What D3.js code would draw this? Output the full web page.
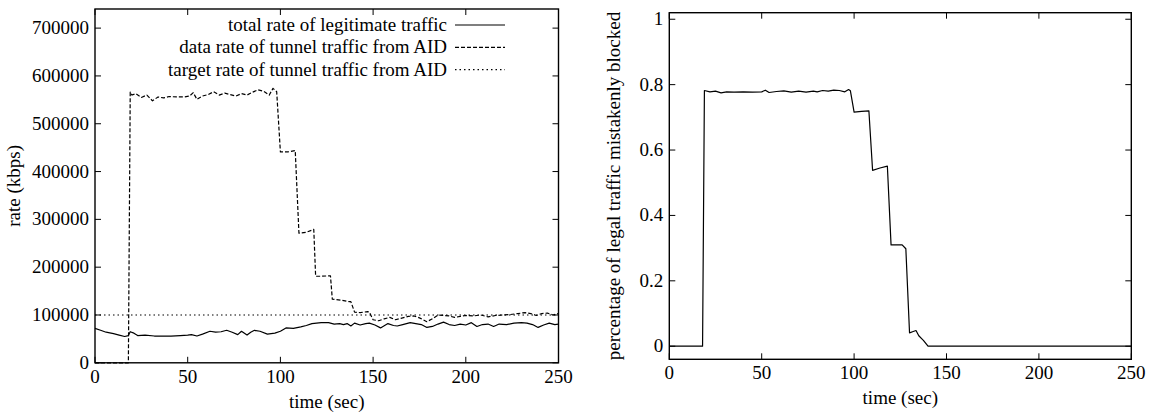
<!DOCTYPE html>
<html>
<head>
<meta charset="utf-8">
<script src="https://cdn.jsdelivr.net/npm/d3@7"></script>
<style>
  body { margin: 0; background: #fff; }
  svg text { font-family: "Liberation Serif", "Times New Roman", serif; font-size: 19px; fill: #000; }
  .frame { fill: none; stroke: #000; stroke-width: 1.4; }
  .tick-line { stroke: #000; stroke-width: 1; }
  .series { fill: none; stroke: #000; stroke-width: 1.2; stroke-linejoin: round; }
</style>
</head>
<body>
<div></div>
<script>
// ---- data ----
var timeTicks = [0, 50, 100, 150, 200, 250];
var rateTicks = [0, 100000, 200000, 300000, 400000, 500000, 600000, 700000];
var pctTicks = [0, 0.2, 0.4, 0.6, 0.8, 1];

var legendLabels = [
  "total rate of legitimate traffic",
  "data rate of tunnel traffic from AID",
  "target rate of tunnel traffic from AID"
];

// total rate of legitimate traffic
var totalTime = [0, 3, 6, 10, 13, 16, 18, 19, 21, 23, 27, 32, 37, 41, 46, 50, 52, 55, 58, 62, 65, 68, 71, 74, 77, 79, 82, 84, 86, 89, 93, 97, 100, 103, 107, 111, 114, 117, 122, 126, 129, 132, 134, 136, 138, 140, 143, 146, 148, 151, 154, 158, 161, 163, 166, 170, 173, 176, 179, 182, 185, 188, 191, 194, 197, 200, 203, 206, 209, 212, 215, 218, 222, 226, 230, 233, 236, 239, 242, 245, 248, 250];
var totalRate = [72000, 68000, 64000, 61000, 58000, 55000, 57000, 65000, 62000, 57000, 58000, 56000, 56000, 56000, 57000, 58000, 59000, 56000, 60000, 66000, 64000, 65000, 68000, 64000, 59000, 66000, 58000, 64000, 68000, 66000, 60000, 62000, 66000, 73000, 72000, 75000, 78000, 82000, 84000, 84000, 81000, 82000, 80000, 82000, 77000, 83000, 79000, 82000, 83000, 79000, 73000, 82000, 78000, 77000, 80000, 84000, 82000, 80000, 74000, 76000, 81000, 85000, 80000, 78000, 81000, 79000, 84000, 76000, 80000, 81000, 76000, 81000, 80000, 83000, 84000, 83000, 80000, 74000, 79000, 83000, 80000, 81000];

// data rate of tunnel traffic from AID
var tunnelTime = [0, 18, 19, 20, 22, 25, 28, 31, 34, 37, 40, 44, 48, 51, 53, 55, 58, 61, 64, 67, 70, 73, 76, 79, 82, 85, 88, 91, 94, 96, 98, 100, 104, 108, 110, 114, 118, 119, 122, 127, 128, 133, 137, 138, 140, 143, 147, 148, 150, 153, 156, 159, 162, 165, 169, 172, 175, 179, 182, 185, 188, 191, 194, 197, 200, 204, 208, 212, 216, 220, 224, 228, 232, 235, 238, 241, 244, 247, 250];
var tunnelRate = [0, 0, 566000, 560000, 563000, 555000, 560000, 548000, 556000, 554000, 557000, 556000, 556000, 558000, 565000, 551000, 558000, 561000, 567000, 560000, 564000, 561000, 558000, 563000, 560000, 566000, 571000, 568000, 560000, 574000, 567000, 441000, 441000, 444000, 271000, 273000, 279000, 181000, 181000, 182000, 133000, 131000, 128000, 128000, 106000, 105000, 107000, 106000, 90000, 88000, 92000, 95000, 90000, 93000, 97000, 98000, 94000, 86000, 92000, 100000, 99000, 98000, 95000, 97000, 99000, 98000, 100000, 96000, 99000, 100000, 101000, 103000, 105000, 103000, 99000, 103000, 104000, 100000, 103000];

// target rate of tunnel traffic from AID
var targetTime = [0, 250];
var targetRate = [100000, 100000];

// percentage of legal traffic mistakenly blocked
var blockedTime = [0, 18, 19, 22, 25, 28, 31, 35, 40, 45, 50, 52, 54, 58, 62, 66, 70, 74, 78, 80, 83, 86, 89, 92, 95, 97, 98, 100, 104, 108, 110, 114, 118, 120, 124, 126, 128, 130, 132, 133.5, 135, 137.5, 140, 250];
var blockedPct = [0, 0, 0.782, 0.778, 0.780, 0.775, 0.778, 0.777, 0.778, 0.777, 0.778, 0.783, 0.776, 0.779, 0.781, 0.777, 0.780, 0.777, 0.780, 0.778, 0.782, 0.780, 0.783, 0.782, 0.778, 0.785, 0.781, 0.716, 0.718, 0.720, 0.538, 0.545, 0.551, 0.310, 0.310, 0.310, 0.298, 0.041, 0.045, 0.048, 0.032, 0.018, 0, 0];

function zip(xs, ys) {
  return xs.map(function(x, i) { return {t: x, v: ys[i]}; });
}

var svg = d3.select("body").select("div").append("svg")
    .attr("width", 1154)
    .attr("height", 413);

// draws one framed gnuplot-style panel and returns its scales
function panel(box, yDomain, yTicks, yLabel) {
  var x = d3.scaleLinear().domain([0, 250]).range([box.left, box.right]);
  var y = d3.scaleLinear().domain(yDomain).range([box.bottom, box.top]);
  var g = svg.append("g");
  var tl = 6;

  // ticks, mirrored on all four sides, pointing inward
  timeTicks.forEach(function(t) {
    g.append("line").attr("class", "tick-line")
      .attr("x1", x(t)).attr("x2", x(t)).attr("y1", box.bottom).attr("y2", box.bottom - tl);
    g.append("line").attr("class", "tick-line")
      .attr("x1", x(t)).attr("x2", x(t)).attr("y1", box.top).attr("y2", box.top + tl);
    g.append("text").attr("x", x(t)).attr("y", box.bottom + 20)
      .attr("text-anchor", "middle").text(t);
  });
  yTicks.forEach(function(v) {
    g.append("line").attr("class", "tick-line")
      .attr("x1", box.left).attr("x2", box.left + tl).attr("y1", y(v)).attr("y2", y(v));
    g.append("line").attr("class", "tick-line")
      .attr("x1", box.right).attr("x2", box.right - tl).attr("y1", y(v)).attr("y2", y(v));
    g.append("text").attr("x", box.left - 6).attr("y", y(v) + 6)
      .attr("text-anchor", "end").text(v);
  });

  g.append("rect").attr("class", "frame")
    .attr("x", box.left).attr("y", box.top)
    .attr("width", box.right - box.left).attr("height", box.bottom - box.top);

  g.append("text").attr("x", (box.left + box.right) / 2).attr("y", box.bottom + 45)
    .attr("text-anchor", "middle").text("time (sec)");
  g.append("text")
    .attr("transform", "translate(" + box.ylabelX + "," + ((box.top + box.bottom) / 2) + ") rotate(-90)")
    .attr("text-anchor", "middle").text(yLabel);

  return {x: x, y: y, g: g};
}

function drawLine(p, data, dash) {
  var line = d3.line()
    .x(function(d) { return p.x(d.t); })
    .y(function(d) { return p.y(d.v); });
  p.g.append("path")
    .datum(data)
    .attr("class", "series")
    .attr("stroke-dasharray", dash)
    .attr("d", line);
}

// ---- left panel: rates ----
var left = panel({left: 95, right: 558.5, top: 9, bottom: 362.8, ylabelX: 20},
  [0, 740000], rateTicks, "rate (kbps)");

var dashes = [null, "4,2", "1.5,3"];
drawLine(left, zip(targetTime, targetRate), dashes[2]);
drawLine(left, zip(tunnelTime, tunnelRate), dashes[1]);
drawLine(left, zip(totalTime, totalRate), dashes[0]);

// legend
legendLabels.forEach(function(lbl, i) {
  var cy = 25 + i * 22.3;
  left.g.append("text").attr("x", 447).attr("y", cy + 6)
    .attr("text-anchor", "end").text(lbl);
  left.g.append("line").attr("class", "series")
    .attr("stroke-dasharray", dashes[i])
    .attr("x1", 455).attr("x2", 505).attr("y1", cy).attr("y2", cy);
});

// ---- right panel: percentage blocked ----
var right = panel({left: 669.3, right: 1131.3, top: 12.7, bottom: 359.3, ylabelX: 620},
  [-0.04, 1.02], pctTicks, "percentage of legal traffic mistakenly blocked");

drawLine(right, zip(blockedTime, blockedPct), null);
</script>
</body>
</html>
